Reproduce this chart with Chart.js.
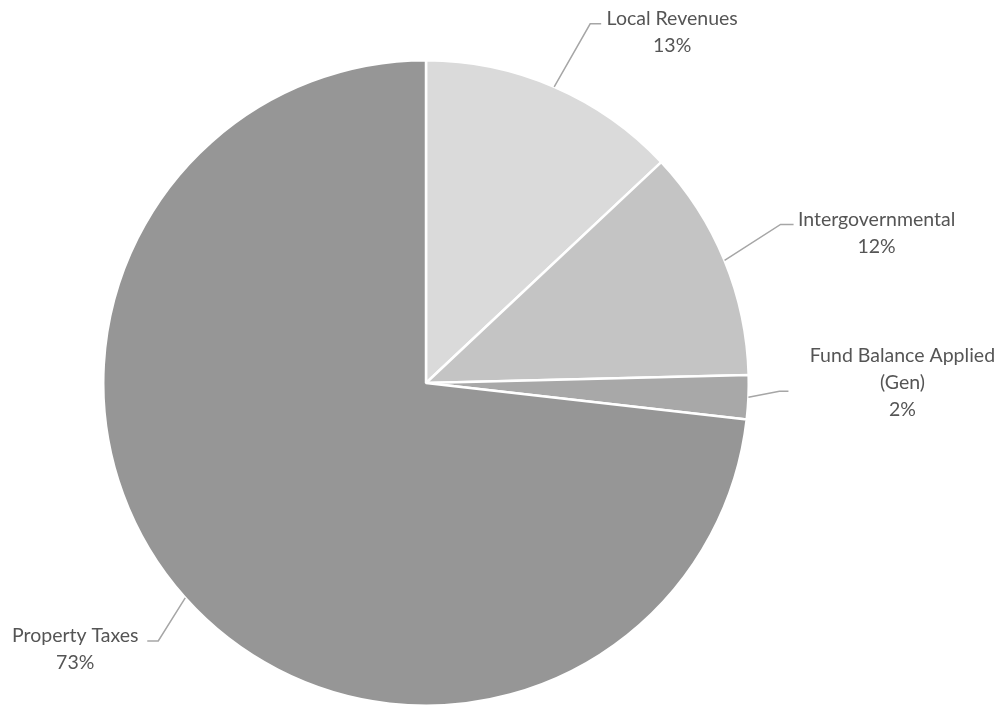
<!DOCTYPE html>
<html>
<head>
<meta charset="utf-8">
<style>
  html, body { margin: 0; padding: 0; background: #fff; }
  #wrap { width: 1006px; height: 707px; }
</style>
<script src="https://cdn.jsdelivr.net/npm/chart.js@4/dist/chart.umd.min.js"></script>
</head>
<body>
<div id="wrap"><canvas id="pie" width="1006" height="707"></canvas></div>
<script>
  // Revenue shares, clockwise from 12 o'clock
  const categories = ['Local Revenues', 'Intergovernmental', ['Fund Balance Applied', '(Gen)'], 'Property Taxes'];
  const shares = [13.0, 11.6, 2.2, 73.2];
  const sliceColors = ['#dadada', '#c4c4c4', '#a8a8a8', '#969696'];

  // leader line elbow / label offsets relative to the slice edge midpoint
  const labelPlacement = [
    { elbow: [36, -63], end: [47, -63], text: [118, -68] },
    { elbow: [56, -36], end: [69, -36], text: [152, -41] },
    { elbow: [31, -6],  end: [40, -6],  text: [154, -41] },
    { elbow: [-27, 43], end: [-38, 43], text: [-110, 38] },
  ];

  const total = shares.reduce((a, b) => a + b, 0);

  const leaderLabels = {
    id: 'leaderLabels',
    afterDatasetsDraw(chart) {
      const ctx = chart.ctx;
      const arcs = chart.getDatasetMeta(0).data;
      ctx.save();
      ctx.font = '19.5px Lato';
      ctx.textAlign = 'center';
      ctx.textBaseline = 'middle';
      arcs.forEach((arc, i) => {
        const p = arc.getProps(['x', 'y', 'startAngle', 'endAngle', 'outerRadius'], true);
        const mid = (p.startAngle + p.endAngle) / 2;
        const ax = p.x + Math.cos(mid) * p.outerRadius;
        const ay = p.y + Math.sin(mid) * p.outerRadius;
        const pl = labelPlacement[i];

        ctx.strokeStyle = '#a6a6a6';
        ctx.lineWidth = 1.5;
        ctx.beginPath();
        ctx.moveTo(ax, ay);
        ctx.lineTo(ax + pl.elbow[0], ay + pl.elbow[1]);
        ctx.lineTo(ax + pl.end[0], ay + pl.end[1]);
        ctx.stroke();

        const name = categories[i];
        const lines = (Array.isArray(name) ? name.slice() : [name]);
        lines.push(Math.round(shares[i] / total * 100) + '%');
        ctx.fillStyle = '#555555';
        lines.forEach((t, k) => {
          ctx.fillText(t, ax + pl.text[0], ay + pl.text[1] + k * 27);
        });
      });
      ctx.restore();
    }
  };

  new Chart(document.getElementById('pie'), {
    type: 'pie',
    data: {
      labels: categories,
      datasets: [{
        data: shares,
        backgroundColor: sliceColors,
        borderColor: '#ffffff',
        borderWidth: 2.5,
      }]
    },
    options: {
      responsive: false,
      animation: false,
      layout: { padding: { top: 59, bottom: 0, left: 0, right: 154 } },
      plugins: { legend: { display: false }, tooltip: { enabled: false } }
    },
    plugins: [leaderLabels]
  });
</script>
</body>
</html>
